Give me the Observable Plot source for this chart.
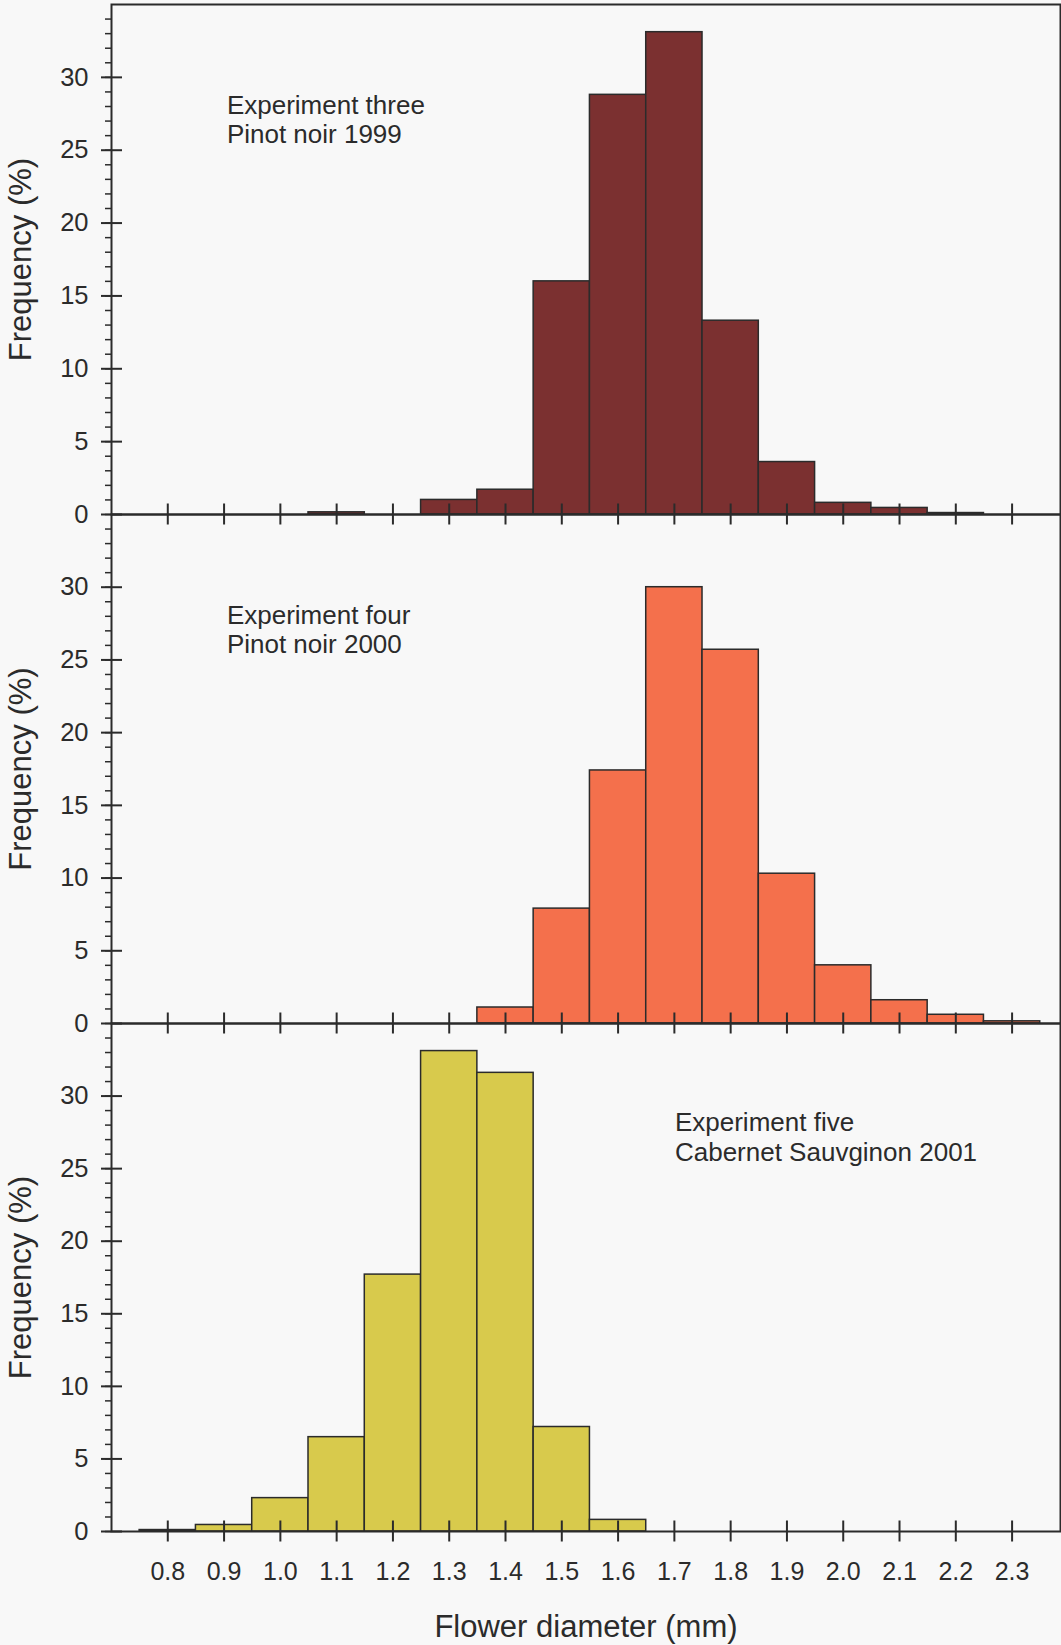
<!DOCTYPE html>
<html>
<head>
<meta charset="utf-8">
<script src="https://cdn.jsdelivr.net/npm/d3@7"></script>
<script src="https://cdn.jsdelivr.net/npm/@observablehq/plot@0.6"></script>
<style>
  html, body { margin: 0; padding: 0; background: #f8f8f8; }
  #chart { width: 1061px; }
  #chart svg { display: block; overflow: visible; }
</style>
</head>
<body>
<div id="chart"></div>
<script>
// Bin centres of the flower-diameter histograms (mm); each bin is 0.1 mm wide.
const binCenters = [0.8, 0.9, 1.0, 1.1, 1.2, 1.3, 1.4, 1.5, 1.6, 1.7, 1.8, 1.9, 2.0, 2.1, 2.2, 2.3];
const binWidth = 0.1;

// Frequency (%) of flowers in each bin, one list per experiment.
const pinotNoir1999 = [0, 0, 0, 0.15, 0, 1.0, 1.7, 16.0, 28.8, 33.1, 13.3, 3.6, 0.8, 0.45, 0.1, 0];
const pinotNoir2000 = [0, 0, 0, 0, 0, 0, 1.1, 7.9, 17.4, 30.0, 25.7, 10.3, 4.0, 1.6, 0.6, 0.15];
const cabernet2001  = [0.1, 0.45, 2.3, 6.5, 17.7, 33.1, 31.6, 7.2, 0.8, 0, 0, 0, 0, 0, 0, 0];

const yTicks = [0, 5, 10, 15, 20, 25, 30];
const panelNotes = [
  "Experiment three\nPinot noir 1999",
  "Experiment four\nPinot noir 2000",
  "Experiment five\nCabernet Sauvginon 2001"
];
const yTitle = "Frequency (%)";
const xTitle = "Flower diameter (mm)";

const ink = "#2b2b2b";
const font = "'Liberation Sans', Arial, Helvetica, sans-serif";

function panel({values, fill, note, noteAt, height, marginTop, marginBottom, bottom}) {
  const bins = binCenters
    .map((c, i) => ({x1: c - binWidth / 2, x2: c + binWidth / 2, freq: values[i]}))
    .filter(d => d.freq > 0);
  return Plot.plot({
    width: 1061,
    height,
    marginLeft: 111,
    marginRight: 1,
    marginTop,
    marginBottom,
    x: {domain: [0.7, 2.386]},
    y: {domain: [0, 35]},
    style: {background: "none", overflow: "visible", fontFamily: font, color: ink},
    marks: [
      Plot.rect(bins, {x1: "x1", x2: "x2", y1: 0, y2: "freq", fill, stroke: ink, strokeWidth: 1.5}),
      Plot.frame({stroke: ink, strokeWidth: 2}),
      // minor y ticks every 1 %
      Plot.axisY({ticks: d3.range(0, 35), tickSize: 6, fill: "none", label: null, stroke: ink, strokeWidth: 1.5}),
      // major y ticks, crossing the axis line, with labels
      Plot.axisY({ticks: yTicks, tickSize: 10, tickPadding: 13, fontSize: 25.5, label: null, stroke: ink, strokeWidth: 2}),
      Plot.axisY({ticks: yTicks, tickSize: 11, dx: 11, fill: "none", label: null, stroke: ink, strokeWidth: 2}),
      // x ticks crossing the baseline
      Plot.axisX({ticks: binCenters, tickSize: 21, dy: -10.5, fill: "none", label: null, stroke: ink, strokeWidth: 2}),
      bottom ? Plot.axisX({ticks: binCenters, tickSize: 0, tickPadding: 31, tickFormat: d3.format(".1f"), fontSize: 25, label: null}) : null,
      Plot.text([yTitle], {text: d => d, frameAnchor: "left", textAnchor: "middle", rotate: -90, dx: -90, fontSize: 31, fill: ink}),
      bottom ? Plot.text([xTitle], {text: d => d, frameAnchor: "bottom", lineAnchor: "top", dy: 83, fontSize: 31, fill: ink}) : null,
      Plot.text([note], {text: d => d, x: noteAt[0], y: noteAt[1], textAnchor: "start", lineAnchor: "top", lineHeight: 1.13, fontSize: 26, fill: ink})
    ]
  });
}

const chart = document.getElementById("chart");
chart.append(
  panel({values: pinotNoir1999, fill: "#7b3030", note: panelNotes[0], noteAt: [0.905, 28.95], height: 514, marginTop: 4, marginBottom: 0}),
  panel({values: pinotNoir2000, fill: "#f4704c", note: panelNotes[1], noteAt: [0.905, 28.9], height: 509, marginTop: 0, marginBottom: 0}),
  panel({values: cabernet2001, fill: "#d8ca4c", note: panelNotes[2], noteAt: [1.701, 29.0], height: 622, marginTop: 0, marginBottom: 114, bottom: true})
);
</script>
</body>
</html>
